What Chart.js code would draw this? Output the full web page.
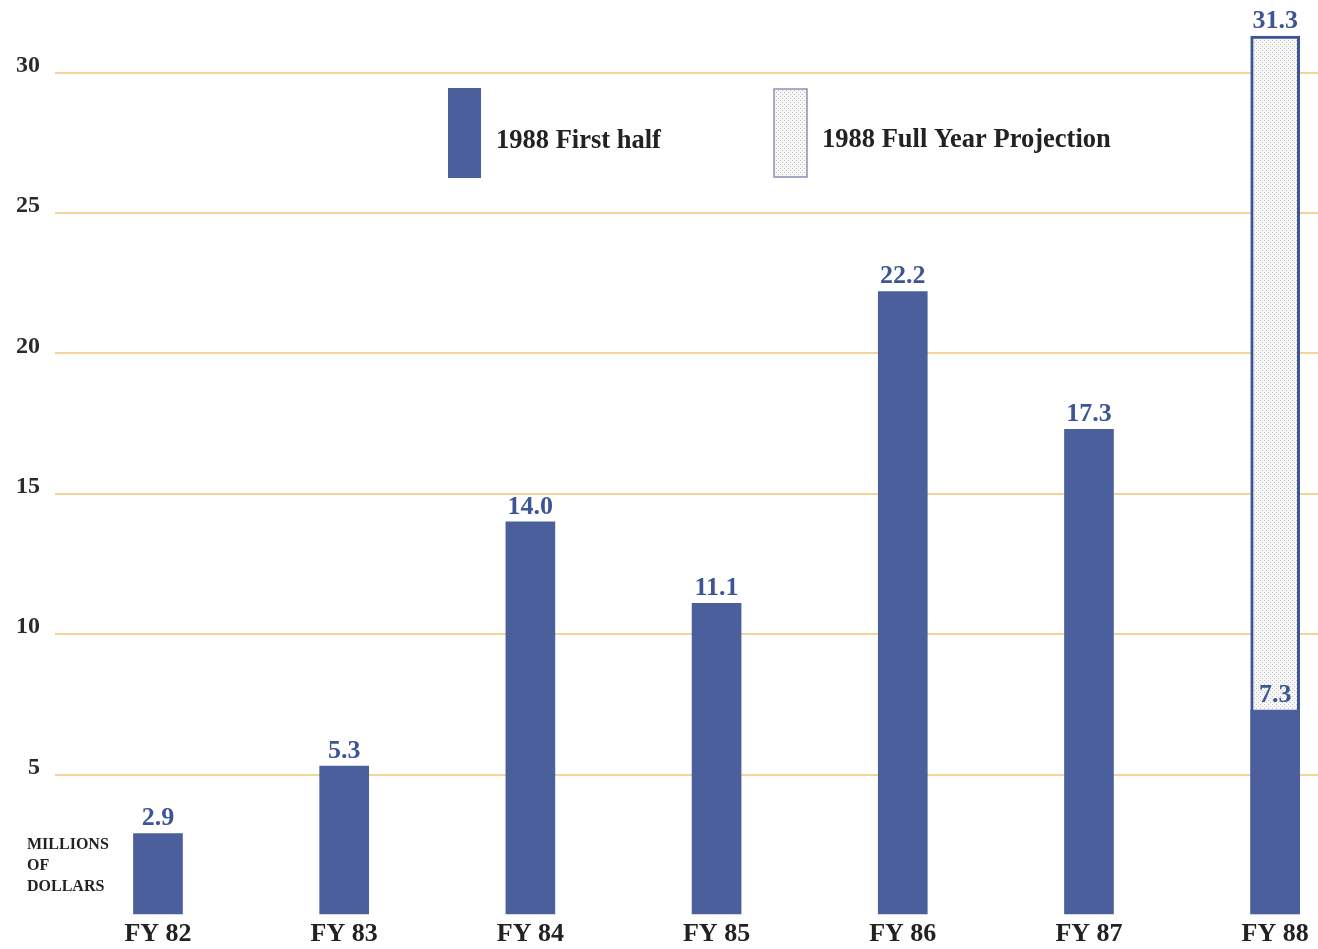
<!DOCTYPE html>
<html>
<head>
<meta charset="utf-8">
<script src="https://cdn.jsdelivr.net/npm/chart.js@4.4.1/dist/chart.umd.min.js"></script>
<style>
  html, body { margin: 0; padding: 0; background: #fff; }
  #wrap { width: 1318px; height: 949px; }
</style>
</head>
<body>
<div id="wrap"><canvas id="chart" width="1318" height="949"></canvas></div>
<script>
// data
const years = [82, 83, 84, 85, 86, 87, 88];
const yearLabels = ['FY 82', 'FY 83', 'FY 84', 'FY 85', 'FY 86', 'FY 87', 'FY 88'];
const firstHalf = [2.9, 5.3, 14.0, 11.1, 22.2, 17.3, 7.3];
const projectionYear = 88;
const projectionTotal = 31.3;
const yTicks = [5, 10, 15, 20, 25, 30];

const BLUE = '#4a5f9c';
const LABEL_BLUE = '#3d5597';
const GRID = '#f3d49a';
const SERIF = "'Liberation Serif', 'DejaVu Serif', serif";

// dotted fill for the projection bar
function dotPattern() {
  const c = document.createElement('canvas');
  c.width = 4; c.height = 4;
  const g = c.getContext('2d');
  g.fillStyle = '#f6f6f6';
  g.fillRect(0, 0, 4, 4);
  g.fillStyle = '#c4c4c4';
  g.fillRect(0, 0, 1, 1);
  g.fillRect(2, 2, 1, 1);
  return g.createPattern(c, 'repeat');
}
const dots = dotPattern();

// value labels on top of bars
const valueLabels = {
  id: 'valueLabels',
  afterDatasetsDraw(chart) {
    const ctx = chart.ctx;
    ctx.save();
    ctx.font = 'bold 26px ' + SERIF;
    ctx.fillStyle = LABEL_BLUE;
    ctx.textAlign = 'center';
    ctx.textBaseline = 'bottom';
    chart.data.datasets.forEach((ds, i) => {
      chart.getDatasetMeta(i).data.forEach((bar, j) => {
        const v = ds.data[j].y;
        ctx.fillText(v.toFixed(1), bar.x, bar.y - 2);
      });
    });
    ctx.restore();
  }
};

// legend boxes and unit note
const extras = {
  id: 'extras',
  afterDraw(chart) {
    const ctx = chart.ctx;
    ctx.save();
    ctx.fillStyle = BLUE;
    ctx.fillRect(448, 88, 33, 90);
    ctx.fillStyle = dots;
    ctx.fillRect(774, 89, 33, 88);
    ctx.strokeStyle = '#8a93b8';
    ctx.lineWidth = 1.5;
    ctx.strokeRect(774, 89, 33, 88);

    ctx.fillStyle = '#222';
    ctx.font = 'bold 26.5px ' + SERIF;
    ctx.textBaseline = 'middle';
    ctx.textAlign = 'left';
    ctx.fillText('1988 First half', 496, 141);
    ctx.fillText('1988 Full Year Projection', 822, 140);

    ctx.font = 'bold 16px ' + SERIF;
    ctx.fillText('MILLIONS', 27, 845);
    ctx.fillText('OF', 27, 866);
    ctx.fillText('DOLLARS', 27, 887);
    ctx.restore();
  }
};

new Chart(document.getElementById('chart'), {
  type: 'bar',
  data: {
    datasets: [
      {
        label: '1988 First half',
        data: years.map((x, i) => ({ x: x, y: firstHalf[i] })),
        backgroundColor: BLUE,
        borderWidth: 0,
        barThickness: 49,
        grouped: false
      },
      {
        label: '1988 Full Year Projection',
        data: [{ x: projectionYear, y: projectionTotal }],
        backgroundColor: dots,
        borderColor: LABEL_BLUE,
        borderWidth: 3,
        borderSkipped: false,
        barThickness: 49,
        grouped: false
      }
    ]
  },
  options: {
    responsive: false,
    animation: false,
    devicePixelRatio: 1,
    layout: { padding: { top: 0, right: 0, left: 0, bottom: 0 } },
    plugins: {
      legend: { display: false },
      tooltip: { enabled: false }
    },
    scales: {
      x: {
        type: 'linear',
        offset: false,
        min: 81.447,
        max: 88.23,
        grid: { display: false, drawTicks: false, offset: false },
        border: { display: false },
        afterBuildTicks(scale) {
          scale.ticks = years.map(v => ({ value: v }));
        },
        afterFit(scale) { scale.height = 34; },
        ticks: {
          padding: 4,
          color: '#222',
          font: { family: SERIF, size: 26, weight: 'bold' },
          callback: (v) => yearLabels[years.indexOf(v)]
        }
      },
      y: {
        min: 0,
        max: 31.54,
        grid: {
          color: (c) => c.tick && c.tick.value === 0 ? 'rgba(0,0,0,0)' : GRID,
          lineWidth: 2,
          drawTicks: false
        },
        border: { display: false },
        afterBuildTicks(scale) {
          scale.ticks = [0].concat(yTicks).map(v => ({ value: v }));
        },
        afterFit(scale) { scale.width = 55; },
        ticks: {
          padding: 15,
          labelOffset: -7,
          color: '#2a2a2a',
          font: { family: SERIF, size: 24, weight: 'bold' },
          callback: (v) => v === 0 ? '' : v
        }
      }
    }
  },
  plugins: [valueLabels, extras]
});
</script>
</body>
</html>
